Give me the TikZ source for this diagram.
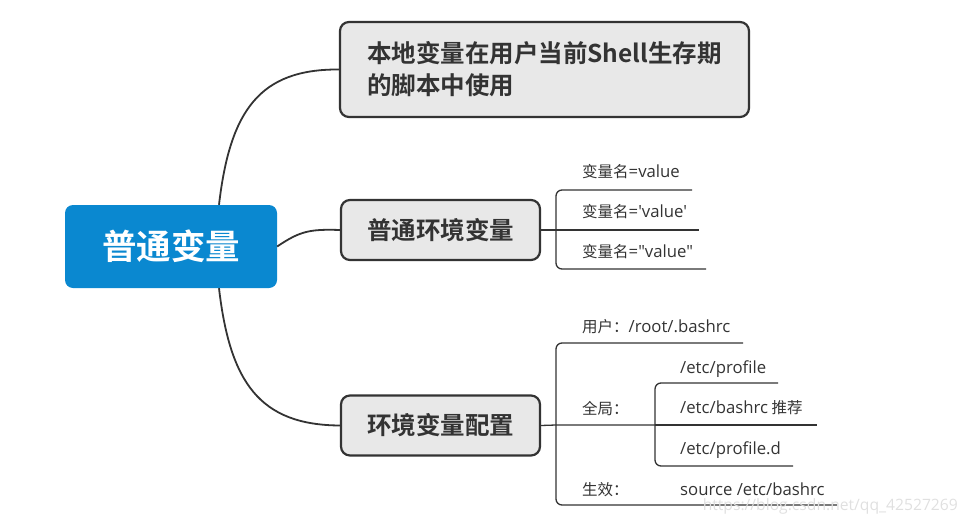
\documentclass[tikz,border=0pt]{standalone}
\usepackage{fontspec}
\setmainfont{Noto Sans CJK SC}[BoldFont=* Bold]
\newfontfamily\lat{Open Sans}[Scale=1.08]
\definecolor{rootblue}{HTML}{0A88D0}
\definecolor{boxgray}{HTML}{E8E8E8}
\definecolor{ink}{HTML}{333333}
\definecolor{wm}{HTML}{E0E0E0}
\begin{document}
\begin{tikzpicture}[x=1pt,y=-1pt,
  conn/.style={draw=ink,line width=1.8pt},
  brk/.style={draw=ink,line width=1.3pt,rounded corners=6pt},
  topic/.style={draw=ink,line width=2.2pt,fill=boxgray,rounded corners=9pt,text=ink,font=\fontsize{24.5}{32}\selectfont\bfseries,inner sep=0pt},
  leaf/.style={anchor=base west,inner sep=0pt,text=ink,font=\fontsize{15.5}{18}\selectfont}]
\useasboundingbox (0,0) rectangle (968,524);
% root
\node[fill=rootblue,rounded corners=8pt,minimum width=212pt,minimum height=83pt,inner sep=0pt,text=white,font=\fontsize{34.5}{40}\selectfont\bfseries] (root) at (171,246.5) {普通变量};
% main topics
\node[topic,minimum width=409pt,minimum height=95pt,align=left] (b1) at (544.5,69.5) {本地变量在用户当前Shell生存期\\的脚本中使用};
\node[topic,minimum width=199pt,minimum height=60pt] (b2) at (440.5,230) {普通环境变量};
\node[topic,minimum width=199pt,minimum height=60pt] (b3) at (440.5,425.5) {环境变量配置};
% root connectors
\coordinate (rt) at ([xshift=48pt]root.north);
\coordinate (rb) at ([xshift=48pt]root.south);
\draw[conn] (rt) .. controls (230,110) and (260,69) .. (b1.west);
\draw[conn] (root.east) .. controls (300,231) and (310,229) .. (b2.west);
\draw[conn] (rb) .. controls (230,383) and (260,425) .. (b3.west);
% children of b2
\coordinate (j2) at (556,230);
\node[leaf] (v1) at (582,177.5) {变量名{\lat =value}};
\node[leaf] (v2) at (582,217.5) {变量名{\lat ='value'}};
\node[leaf] (v3) at (582,257.5) {变量名{\lat ="value"}};
\coordinate (v1e) at (692,190);
\coordinate (v2e) at (699,230);
\coordinate (v3e) at (706,269);
\draw[brk] (v1e) -- (v1e -| j2) -- (v3e -| j2) -- (v3e);
\draw[conn,line width=1.3pt] (b2.east) -- (j2) -- (v2e);
% children of b3
\coordinate (j3) at (556,425);
\node[leaf] (u1) at (582,332.5) {用户：{\lat /root/.bashrc}};
\node[leaf] (u2) at (582,414.5) {全局：};
\node[leaf] (u3) at (582,495.5) {生效：};
\coordinate (u1e) at (743,343);
\coordinate (u3e) at (837,505);
\coordinate (j4) at (655,425);
\draw[brk] (u1e) -- (u1e -| j3) -- (u3e -| j3) -- (u3e);
\draw[conn,line width=1.3pt] (b3.east) -- (j3) -- (j4);
% nested under 全局
\node[leaf] (g1) at (680,373.5) {\lat /etc/profile};
\node[leaf] (g2) at (680,413.5) {{\lat /etc/bashrc} 推荐};
\node[leaf] (g3) at (680,454.5) {\lat /etc/profile.d};
\node[leaf] (s1) at (680,495.5) {\lat source /etc/bashrc};
\coordinate (g1e) at (778,383);
\coordinate (g2e) at (817,425);
\coordinate (g3e) at (793,466);
\draw[brk] (g1e) -- (g1e -| j4) -- (g3e -| j4) -- (g3e);
\draw[conn,line width=1.3pt] (j4) -- (g2e);
% watermark
\node[anchor=base east,inner sep=0pt,text=wm,font=\fontsize{14.5}{16}\selectfont\lat] (wmk) at (958,510) {https://blog.csdn.net/qq\_42527269};
\end{tikzpicture}
\end{document}
